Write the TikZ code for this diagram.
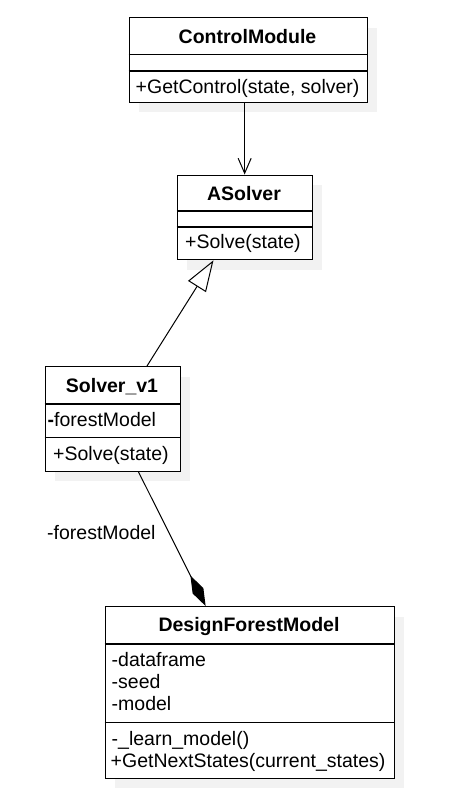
\documentclass[tikz,border=0pt]{standalone}
\usepackage{fontspec}
\setmainfont{Liberation Sans}
\usetikzlibrary{arrows.meta,shadows}

\begin{document}
\begin{tikzpicture}[x=1pt,y=-1pt,
            font=\fontsize{19.5}{22}\selectfont,
            class/.style={draw,line width=1.3pt,fill=white,inner sep=0pt,anchor=north west,
                drop shadow={shadow xshift=10pt,shadow yshift=-10pt,fill=black!5,opacity=1}},
            member/.style={inner sep=0pt,anchor=base west},
            title/.style={inner sep=0pt,anchor=base,font=\fontsize{19.5}{22}\selectfont\bfseries},
            divider/.style={line width=1.3pt}]
                \useasboundingbox (0,0) rectangle (473,806);

                % ControlModule
                \node[class,minimum width=238pt,minimum height=84.5pt](ctrl) at (128.5,17) {};
                \draw[divider] (128.5,54.5) -- (366.5,54.5);
                \draw[divider] (128.5,71) -- (366.5,71);
                \node[title](ctrl title) at (247.5,43.5) {ControlModule};
                \node[member](ctrl op) at (135.5,93) {+GetControl(state, solver)};

                % ASolver
                \node[class,minimum width=135pt,minimum height=84.5pt](asolver) at (176.5,174.5) {};
                \draw[divider] (176.5,211) -- (311.5,211);
                \draw[divider] (176.5,227) -- (311.5,227);
                \node[title](asolver title) at (244,200) {ASolver};
                \node[member](asolver op) at (185,248.5) {+Solve(state)};

                % Solver_v1
                \node[class,minimum width=135pt,minimum height=104.5pt](solver) at (44.5,366) {};
                \draw[divider] (44.5,404) -- (179.5,404);
                \draw[divider] (44.5,437.5) -- (179.5,437.5);
                \node[title](solver title) at (112,392) {Solver\_v1};
                \node[member](solver attr) at (47.5,426) {\textbf{-}forestModel};
                \node[member](solver op) at (53,460) {+Solve(state)};

                % DesignForestModel
                \node[class,minimum width=289pt,minimum height=171.5pt](dfm) at (104.5,606) {};
                \draw[divider] (104.5,644) -- (393.5,644);
                \draw[divider] (104.5,722.5) -- (393.5,722.5);
                \node[title](dfm title) at (249,631) {DesignForestModel};
                \node[member](dfm attr1) at (111.5,666) {-dataframe};
                \node[member](dfm attr2) at (111.5,688) {-seed};
                \node[member](dfm attr3) at (111.5,710) {-model};
                \node[member](dfm op1) at (111.5,745) {-\_learn\_model()};
                \node[member](dfm op2) at (110.5,767) {+GetNextStates(current\_states)};

                \node[member](role) at (47,539) {-forestModel};

            \begin{scope}[line width=1pt]
                \draw[-{Straight Barb[length=15pt,width=13pt]}](ctrl.south -| asolver.north) -- (asolver.north);
                \draw[-{Triangle[open,length=31pt,width=21pt]}](solver.57) -- (asolver.234);
                \draw[-{Diamond[length=34pt,width=12pt]}](solver.296) -- (dfm.117);
            \end{scope}
        \end{tikzpicture}
\end{document}
